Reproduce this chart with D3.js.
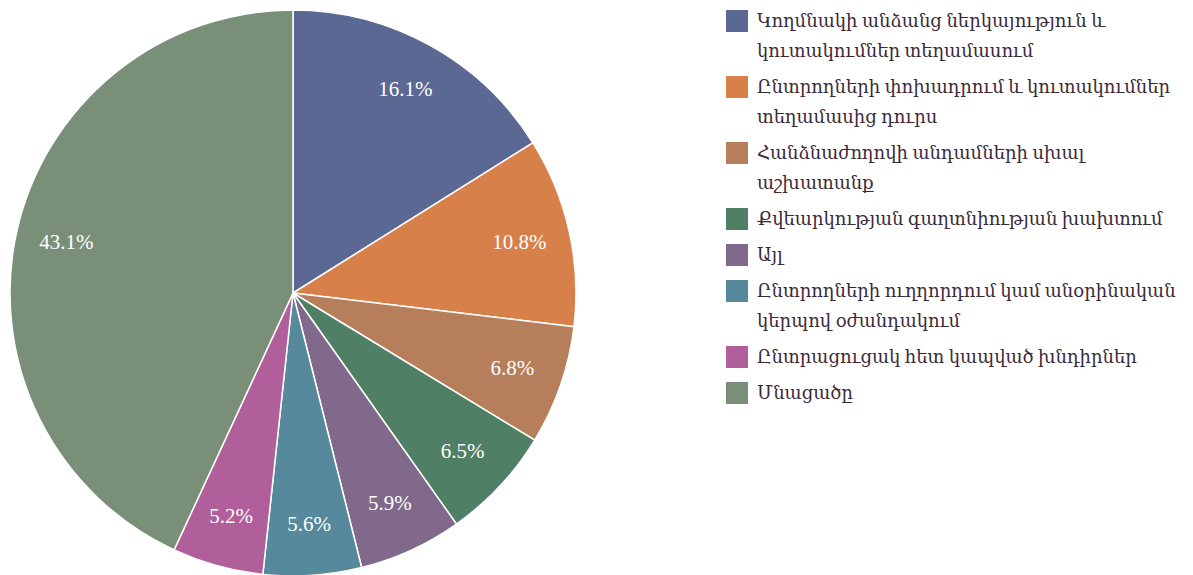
<!DOCTYPE html>
<html>
<head>
<meta charset="utf-8">
<script src="https://cdn.jsdelivr.net/npm/d3@7"></script>
<style>
  body { margin: 0; background: #fff; }
  svg text { font-family: "Liberation Serif", "Times New Roman", Times, "DejaVu Serif", serif; }
</style>
</head>
<body>
<div id="chart"></div>
<script>
// Data
const categories = [
  ["Կողմնակի անձանց ներկայություն և", "կուտակումներ տեղամասում"],
  ["Ընտրողների փոխադրում և կուտակումներ", "տեղամասից դուրս"],
  ["Հանձնաժողովի անդամների սխալ", "աշխատանք"],
  ["Քվեարկության գաղտնիության խախտում"],
  ["Այլ"],
  ["Ընտրողների ուղղորդում կամ անօրինական", "կերպով օժանդակում"],
  ["Ընտրացուցակ հետ կապված խնդիրներ"],
  ["Մնացածը"]
];
const values = [16.1, 10.8, 6.8, 6.5, 5.9, 5.6, 5.2, 43.1];
const colors = ["#5b6893", "#d8804a", "#b67e5a", "#4f8066", "#80698a", "#56899c", "#b05f9b", "#7a8f78"];

const w = 1193;
const h = 575;
const svg = d3.select("#chart").append("svg")
  .attr("width", w)
  .attr("height", h);

const cx = 293, cy = 293, r = 283;
const items = values.map((v, i) => ({ value: v, label: categories[i], color: colors[i] }));

const pie = d3.pie().value(d => d.value).sort(null);
const arc = d3.arc().innerRadius(0).outerRadius(r);
const labelArc = d3.arc().innerRadius(r * 0.82).outerRadius(r * 0.82);

const g = svg.append("g").attr("transform", `translate(${cx},${cy})`);

g.selectAll("path")
  .data(pie(items))
  .join("path")
  .attr("d", arc)
  .attr("fill", d => d.data.color)
  .attr("stroke", "#fff")
  .attr("stroke-width", 1.5);

g.selectAll("text")
  .data(pie(items))
  .join("text")
  .attr("transform", d => `translate(${labelArc.centroid(d)})`)
  .attr("text-anchor", "middle")
  .attr("dy", "0.3em")
  .attr("fill", "#fff")
  .style("font-family", "'Liberation Serif', 'Times New Roman', serif")
  .style("font-size", "21px")
  .text(d => d.data.value.toFixed(1) + "%");

// Legend
const legend = svg.append("g").attr("transform", "translate(726,10)");
let y = 0;
items.forEach(d => {
  const row = legend.append("g").attr("transform", `translate(0,${y})`);
  row.append("rect")
    .attr("width", 22)
    .attr("height", 22)
    .attr("fill", d.color);
  d.label.forEach((line, j) => {
    row.append("text")
      .attr("x", 31)
      .attr("y", 11 + j * 30)
      .attr("dy", "0.35em")
      .attr("fill", "#3a2a3a")
      .style("font-size", "18px")
      .text(line);
  });
  y += d.label.length * 30 + 6;
});
</script>
</body>
</html>
